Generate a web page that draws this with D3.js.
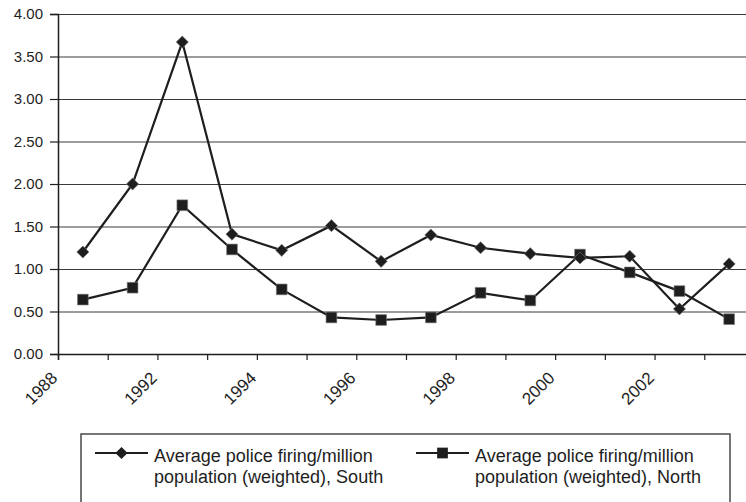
<!DOCTYPE html>
<html>
<head>
<meta charset="utf-8">
<script src="https://cdn.jsdelivr.net/npm/d3@7"></script>
<style>
  body { margin: 0; background: #fff; }
  svg { display: block; font-family: "Liberation Sans", Arial, sans-serif; }
</style>
</head>
<body>
<div class="canvas"></div>
<script>
// categories (every second one is labelled on the axis)
const categories = ['1988', '1991', '1992', '1993', '1994', '1995', '1996', '1997',
    '1998', '1999', '2000', '2001', '2002', '2003'];
const southValues = [1.20, 2.00, 3.67, 1.41, 1.22, 1.51, 1.09, 1.40, 1.25, 1.18, 1.13, 1.15, 0.53, 1.06];
const northValues = [0.64, 0.78, 1.75, 1.23, 0.76, 0.43, 0.40, 0.43, 0.72, 0.63, 1.17, 0.96, 0.74, 0.41];
const yTicks = [0, 0.5, 1, 1.5, 2, 2.5, 3, 3.5, 4];
const xTickLabels = ['1988', '', '1992', '', '1994', '', '1996', '', '1998', '', '2000', '', '2002', '', ''];
const seriesNames = [
    ['Average police firing/million', 'population (weighted), South'],
    ['Average police firing/million', 'population (weighted), North']
];

const dims = { width: 746, height: 502 };
const margin = { left: 58, top: 14 };
const plot = { width: 696, height: 340 };
const ink = '#1e1e1e';
const font = '"Liberation Sans", Arial, sans-serif';

const svg = d3.select('.canvas')
    .append('svg')
    .attr('width', dims.width)
    .attr('height', dims.height);

const graph = svg.append('g')
    .attr('transform', `translate(${margin.left}, ${margin.top})`);

const x = d3.scaleBand()
    .domain(categories)
    .range([0, plot.width])
    .padding(0);

// category edges, used for the tick marks
const xEdge = d3.scalePoint()
    .domain(d3.range(categories.length + 1))
    .range([0, plot.width]);

const y = d3.scaleLinear()
    .domain([0, 4])
    .range([plot.height, 0]);

// gridlines
const grid = graph.append('g')
    .call(d3.axisLeft(y).tickValues(yTicks.slice(1)).tickSize(-plot.width).tickFormat(''));
grid.select('.domain').remove();
grid.selectAll('line').attr('stroke', '#3a3a3a').attr('stroke-width', 1.2);

// y axis
const yAxis = graph.append('g')
    .call(d3.axisLeft(y).tickValues(yTicks).tickFormat(d3.format('.2f')).tickSize(8).tickPadding(7));
yAxis.select('.domain').attr('stroke', ink).attr('stroke-width', 1.5);
yAxis.selectAll('line').attr('stroke', ink).attr('stroke-width', 1.2);
yAxis.selectAll('text')
    .attr('font-size', 15)
    .attr('fill', ink)
    .attr('font-family', font);

// x axis
const xAxis = graph.append('g')
    .attr('transform', `translate(0, ${plot.height})`)
    .call(d3.axisBottom(xEdge).tickSize(6).tickFormat(i => xTickLabels[i]));
xAxis.select('.domain').attr('stroke', ink).attr('stroke-width', 1.5);
xAxis.selectAll('line').attr('stroke', ink).attr('stroke-width', 1.2);
xAxis.selectAll('text')
    .attr('font-size', 17)
    .attr('fill', ink)
    .attr('font-family', font)
    .attr('text-anchor', 'end')
    .attr('y', 0)
    .attr('dy', 0)
    .attr('transform', 'translate(0, 25) rotate(-45)');

// lines and markers
const line = d3.line()
    .x((d, i) => x(categories[i]) + x.bandwidth() / 2)
    .y(d => y(d));

const diamond = d3.symbol().type(d3.symbolSquare).size(74);
const square = d3.symbol().type(d3.symbolSquare).size(115);

const series = [
    { values: northValues, symbol: square, rot: 0 },
    { values: southValues, symbol: diamond, rot: 45 }
];

series.forEach(s => {
    graph.append('path')
        .datum(s.values)
        .attr('fill', 'none')
        .attr('stroke', ink)
        .attr('stroke-width', 2.2)
        .attr('d', line);

    graph.selectAll(null)
        .data(s.values)
        .enter()
        .append('path')
        .attr('d', s.symbol)
        .attr('fill', ink)
        .attr('stroke', '#777')
        .attr('stroke-width', 0.6)
        .attr('transform', (d, i) =>
            `translate(${x(categories[i]) + x.bandwidth() / 2}, ${y(d)}) rotate(${s.rot})`);
});

// legend
const legendGroup = svg.append('g');

legendGroup.append('rect')
    .attr('x', 81)
    .attr('y', 434)
    .attr('width', 649)
    .attr('height', 100)
    .attr('fill', 'none')
    .attr('stroke', '#4a4a4a')
    .attr('stroke-width', 1.5);

const legendItems = [
    { x: 95, symbol: diamond, rot: 45, text: seriesNames[0] },
    { x: 416, symbol: square, rot: 0, text: seriesNames[1] }
];

legendItems.forEach(item => {
    const g = legendGroup.append('g').attr('transform', `translate(${item.x}, 453)`);
    g.append('line')
        .attr('x1', 0).attr('x2', 53)
        .attr('stroke', ink)
        .attr('stroke-width', 2);
    g.append('path')
        .attr('d', item.symbol)
        .attr('fill', ink)
        .attr('transform', `translate(26.5, 0) rotate(${item.rot})`);
    const t = g.append('text')
        .attr('x', 59)
        .attr('y', 9)
        .attr('font-size', 18)
        .attr('font-family', font)
        .attr('fill', ink);
    item.text.forEach((s, i) => {
        t.append('tspan').attr('x', 59).attr('dy', i === 0 ? 0 : 21).text(s);
    });
});
</script>
</body>
</html>
